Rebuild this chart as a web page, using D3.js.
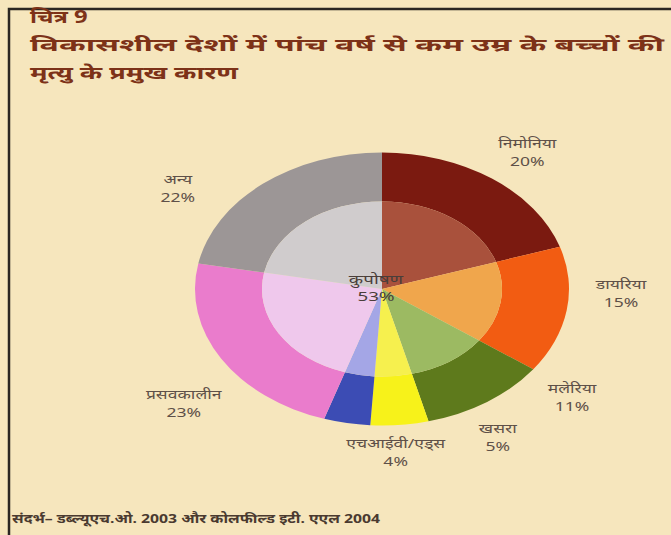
<!DOCTYPE html>
<html>
<head>
<meta charset="utf-8">
<script src="https://cdn.jsdelivr.net/npm/d3@7"></script>
<style>
  body { margin: 0; background: #f6e6bd; }
  svg { display: block; }
  .lbl { font-family: "Noto Sans", "DejaVu Sans", sans-serif; font-size: 12.5px; fill: #5e5048; }
  .ttl { font-family: "Noto Sans", "DejaVu Sans", sans-serif; font-size: 17px; font-weight: bold; fill: #7d3218; }
</style>
</head>
<body>
<script>
// data
var causes = ["निमोनिया", "डायरिया", "मलेरिया", "खसरा", "एचआईवी/एड्स", "प्रसवकालीन", "अन्य"];
var shares = [20, 15, 11, 5, 4, 23, 22];
var outerColors = ["#7b1a10", "#f25c12", "#5e7a1c", "#f7f21a", "#3c4cb4", "#ea7ccc", "#9c9696"];
var innerColors = ["#a9513c", "#f0a64c", "#9cba62", "#f6f04e", "#a4a6e6", "#efc8ec", "#d0cccd"];
var centreLabel = ["कुपोषण", "53%"];
var titleLines = ["चित्र 9", "विकासशील देशों में पांच वर्ष से कम उम्र के बच्चों की", "मृत्यु के प्रमुख कारण"];
var sourceText = "संदर्भ– डब्ल्यूएच.ओ. 2003 और कोलफील्ड इटी. एएल 2004";

var w = 671, h = 535;
var cx = 382, cy = 289, R = 187, r = 120, squash = 0.73;

var svg = d3.select("body").append("svg").attr("width", w).attr("height", h);

svg.append("rect").attr("width", w).attr("height", h).attr("fill", "#f6e6bd");
// frame (top + left only)
svg.append("path").attr("d", "M9," + h + "V9H" + w)
    .attr("fill", "none").attr("stroke", "#2a2622").attr("stroke-width", 2.5);

// the printed face is wider than ours: stretch glyphs sideways
function stretch(sel, factor, width){
    sel.each(function(){
        var len = this.getComputedTextLength();
        d3.select(this)
            .attr("textLength", width || len * factor)
            .attr("lengthAdjust", "spacingAndGlyphs");
    });
}

// title
var title = svg.append("g").selectAll("text")
    .data(titleLines)
    .enter().append("text")
    .attr("class", "ttl")
    .attr("x", 30)
    .attr("y", function(d, i){ return [23, 51, 79][i]; })
    .text(function(d){ return d; });
stretch(title.filter(function(d, i){ return i == 0; }), 1.4);
stretch(title.filter(function(d, i){ return i == 1; }), 1, 634);
stretch(title.filter(function(d, i){ return i == 2; }), 1, 208);

var pie = d3.pie().sort(null).value(function(d){ return d; });
var arcs = pie(shares);

var outerArc = d3.arc().innerRadius(r).outerRadius(R);
var innerArc = d3.arc().innerRadius(0).outerRadius(r);

var g = svg.append("g").attr("transform", "translate(" + cx + "," + cy + ") scale(1," + squash + ")");

g.selectAll(".outer").data(arcs).enter().append("path")
    .attr("class", "outer")
    .attr("d", outerArc)
    .attr("fill", function(d, i){ return outerColors[i]; });

g.selectAll(".inner").data(arcs).enter().append("path")
    .attr("class", "inner")
    .attr("d", innerArc)
    .attr("fill", function(d, i){ return innerColors[i]; });

// labels round the ring, nudged where slices are thin
var labelArc = d3.arc().innerRadius(242).outerRadius(242);
var nudge = [[3, 4], [0, -26], [54, -40], [93, -30], [59, -13], [10, 22], [-50, 33]];

var labels = svg.append("g").selectAll("g")
    .data(arcs)
    .enter().append("g")
    .attr("transform", function(d, i){
        var c = labelArc.centroid(d);
        return "translate(" + (cx + c[0] + nudge[i][0]) + "," + (cy + c[1] * squash + nudge[i][1]) + ")";
    });

labels.append("text").attr("class", "lbl")
    .attr("text-anchor", "middle")
    .attr("y", -2)
    .text(function(d, i){ return causes[i]; });

labels.append("text").attr("class", "lbl")
    .attr("text-anchor", "middle")
    .attr("y", 16)
    .text(function(d){ return d.data + "%"; });

stretch(labels.selectAll("text"), 1.4);

var centre = svg.append("g").selectAll("text")
    .data(centreLabel)
    .enter().append("text")
    .attr("class", "lbl")
    .attr("text-anchor", "middle")
    .attr("x", cx - 6)
    .attr("y", function(d, i){ return 284 + i * 17; })
    .style("fill", "#4a3e3a")
    .text(function(d){ return d; });
stretch(centre, 1.5);

var src = svg.append("text")
    .attr("class", "lbl")
    .attr("x", 12)
    .attr("y", 523)
    .style("font-weight", "bold")
    .style("font-size", "13px")
    .style("fill", "#4a3a30")
    .text(sourceText);
stretch(src, 1, 368);
</script>
</body>
</html>
